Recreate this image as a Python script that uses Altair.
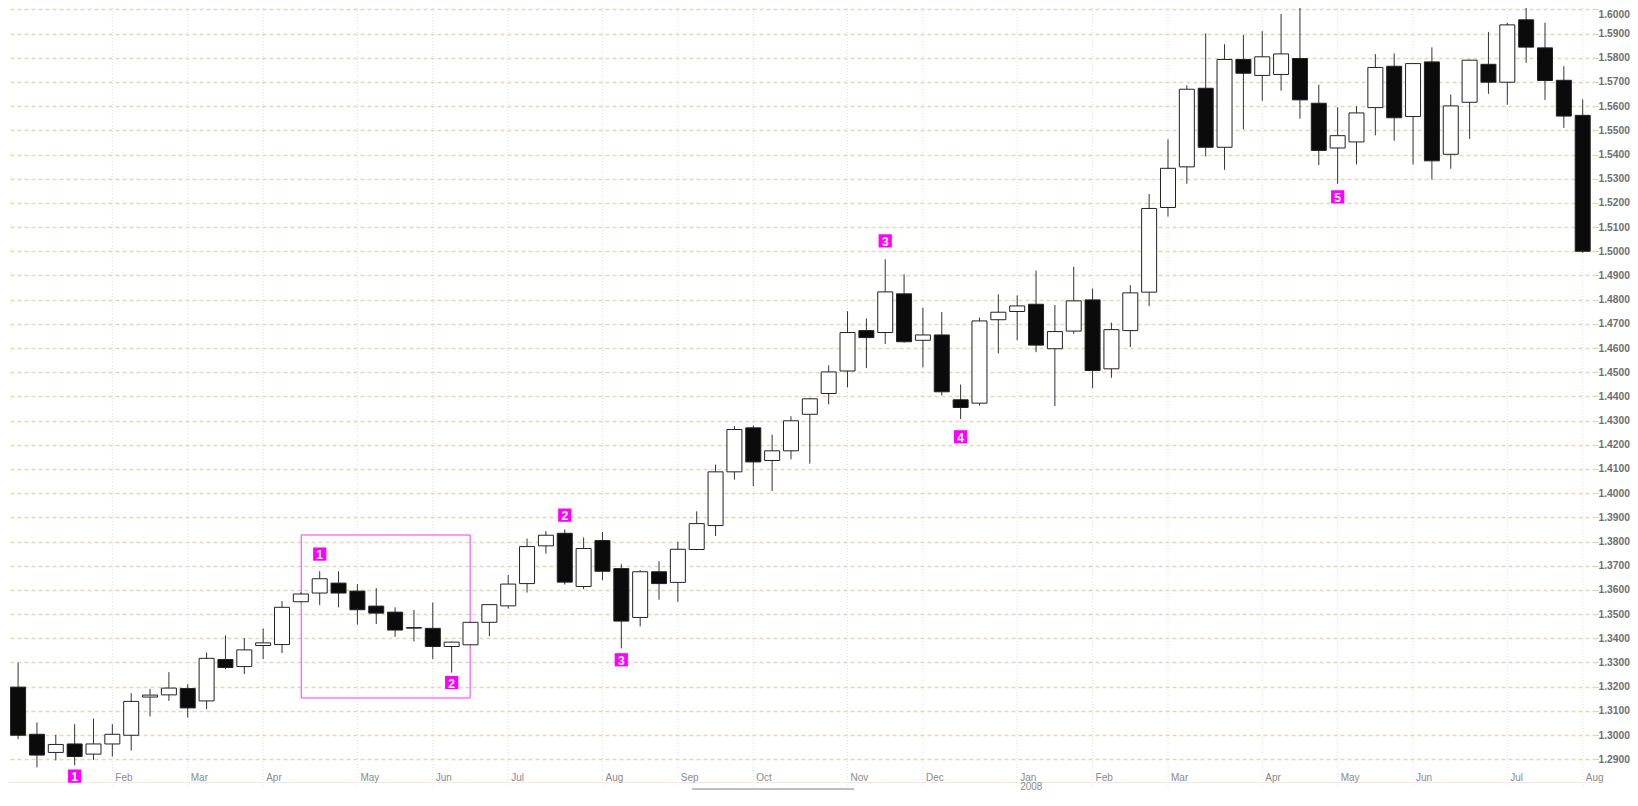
import altair as alt
import pandas as pd

# Weekly candles, week 0 = 1 Jan 2007 ... week 83 = 4 Aug 2008
opens = [1.3198, 1.3003, 1.2928, 1.2963, 1.2921, 1.2963, 1.2999, 1.3157, 1.3166, 1.3192,
         1.3141, 1.3312, 1.3283, 1.3370, 1.3374, 1.3551, 1.3587, 1.3628, 1.3595, 1.3533,
         1.3508, 1.3444, 1.3441, 1.3366, 1.3373, 1.3466, 1.3534, 1.3626, 1.3782, 1.3834,
         1.3614, 1.3804, 1.3688, 1.3486, 1.3675, 1.3631, 1.3767, 1.3866, 1.4088, 1.4270,
         1.4135, 1.4175, 1.4326, 1.4412, 1.4505, 1.4672, 1.4664, 1.4824, 1.4632, 1.4654,
         1.4386, 1.4372, 1.4717, 1.4751, 1.4781, 1.4597, 1.4670, 1.4799, 1.4514, 1.4672,
         1.4831, 1.5181, 1.5349, 1.5674, 1.5430, 1.5793, 1.5727, 1.5731, 1.5797, 1.5612,
         1.5427, 1.5452, 1.5594, 1.5765, 1.5557, 1.5783, 1.5401, 1.5616, 1.5773, 1.5699,
         1.5957, 1.5841, 1.5707, 1.5562]
highs = [1.3300, 1.3052, 1.3001, 1.3045, 1.3067, 1.3045, 1.3173, 1.3191, 1.3260, 1.3210,
         1.3341, 1.3412, 1.3401, 1.3441, 1.3554, 1.3590, 1.3677, 1.3677, 1.3624, 1.3608,
         1.3528, 1.3517, 1.3548, 1.3386, 1.3468, 1.3541, 1.3661, 1.3812, 1.3843, 1.3850,
         1.3817, 1.3839, 1.3706, 1.3682, 1.3719, 1.3799, 1.3925, 1.4118, 1.4277, 1.4279,
         1.4242, 1.4318, 1.4394, 1.4528, 1.4752, 1.4722, 1.4967, 1.4905, 1.4767, 1.4749,
         1.4449, 1.4726, 1.4822, 1.4818, 1.4920, 1.4778, 1.4936, 1.4846, 1.4705, 1.4860,
         1.5237, 1.5463, 1.5686, 1.5901, 1.5856, 1.5894, 1.5910, 1.5981, 1.6018, 1.5689,
         1.5595, 1.5599, 1.5815, 1.5818, 1.5778, 1.5843, 1.5648, 1.5792, 1.5907, 1.5945,
         1.6045, 1.5945, 1.5765, 1.5628]
lows = [1.2983, 1.2866, 1.2895, 1.2875, 1.2897, 1.2911, 1.2936, 1.3077, 1.3141, 1.3072,
        1.3107, 1.3272, 1.3252, 1.3314, 1.3339, 1.3548, 1.3537, 1.3528, 1.3456, 1.3459,
        1.3406, 1.3387, 1.3314, 1.3258, 1.3371, 1.3408, 1.3523, 1.3589, 1.3750, 1.3622,
        1.3603, 1.3640, 1.3358, 1.3449, 1.3560, 1.3551, 1.3764, 1.3823, 1.4056, 1.4029,
        1.4009, 1.4140, 1.4122, 1.4367, 1.4437, 1.4517, 1.4617, 1.4622, 1.4520, 1.4404,
        1.4306, 1.4362, 1.4578, 1.4632, 1.4583, 1.4360, 1.4659, 1.4434, 1.4477, 1.4604,
        1.4773, 1.5143, 1.5279, 1.5392, 1.5337, 1.5504, 1.5622, 1.5664, 1.5548, 1.5356,
        1.5279, 1.5359, 1.5479, 1.5457, 1.5359, 1.5297, 1.5341, 1.5465, 1.5651, 1.5606,
        1.5779, 1.5626, 1.5510, 1.4993]
closes = [1.2999, 1.2917, 1.2961, 1.2911, 1.2963, 1.3003, 1.3139, 1.3165, 1.3194, 1.3112,
          1.3317, 1.3279, 1.3352, 1.3381, 1.3528, 1.3583, 1.3646, 1.3587, 1.3518, 1.3504,
          1.3434, 1.3442, 1.3366, 1.3384, 1.3466, 1.3539, 1.3624, 1.3779, 1.3826, 1.3632,
          1.3771, 1.3677, 1.3471, 1.3675, 1.3626, 1.3768, 1.3874, 1.4088, 1.4263, 1.4129,
          1.4175, 1.4299, 1.4390, 1.4501, 1.4664, 1.4643, 1.4832, 1.4626, 1.4654, 1.4419,
          1.4354, 1.4712, 1.4748, 1.4774, 1.4612, 1.4668, 1.4795, 1.4507, 1.4676, 1.4828,
          1.5177, 1.5343, 1.5670, 1.5430, 1.5793, 1.5736, 1.5804, 1.5816, 1.5626, 1.5417,
          1.5478, 1.5572, 1.5760, 1.5552, 1.5776, 1.5374, 1.5601, 1.5790, 1.5699, 1.5936,
          1.5844, 1.5706, 1.5559, 1.5000]

month_names = ["Feb", "Mar", "Apr", "May", "Jun", "Jul", "Aug", "Sep", "Oct", "Nov", "Dec",
               "Jan", "Feb", "Mar", "Apr", "May", "Jun", "Jul", "Aug"]
month_weeks = [5, 9, 13, 18, 22, 26, 31, 35, 39, 44, 48, 53, 57, 61, 66, 70, 74, 79, 83]
year_label = ["2008"]
year_week = [53]

y_ticks = [1.29, 1.30, 1.31, 1.32, 1.33, 1.34, 1.35, 1.36, 1.37, 1.38, 1.39, 1.40, 1.41,
           1.42, 1.43, 1.44, 1.45, 1.46, 1.47, 1.48, 1.49, 1.50, 1.51, 1.52, 1.53, 1.54,
           1.55, 1.56, 1.57, 1.58, 1.59, 1.60]

marker_text = ["1", "1", "2", "2", "3", "3", "4", "4", "5", "6"]
marker_week = [3, 16, 23, 29, 32, 46, 50, 69, 70, 81]
marker_value = [1.2830, 1.3748, 1.3217, 1.3909, 1.3311, 1.5043, 1.4233, 1.6043, 1.5225, 1.6052]

box_weeks = [15.02, 23.98]
box_values = [1.3827, 1.3153]

df = pd.DataFrame({
    "week": list(range(len(opens))),
    "open": opens, "high": highs, "low": lows, "close": closes,
})
df["dir"] = ["up" if c >= o else "down" for o, c in zip(opens, closes)]

months = pd.DataFrame({"week": month_weeks, "name": month_names})
years = pd.DataFrame({"week": year_week, "name": year_label})
markers = pd.DataFrame({"week": marker_week, "value": marker_value, "text": marker_text})
box = pd.DataFrame({"x": [box_weeks[0]], "x2": [box_weeks[1]],
                    "y": [box_values[0]], "y2": [box_values[1]]})
one = pd.DataFrame({"a": [0]})

W, H = 1588, 778
FONT = "Liberation Sans"
xs = alt.Scale(domain=[-0.27, 83.44], nice=False, zero=False)
ys = alt.Scale(domain=[1.27892, 1.60058], nice=False, zero=False)

y_axis = alt.Axis(
    orient="right", values=y_ticks, format=".4f", title=None,
    labelFont=FONT, labelFontSize=10.3, labelFontWeight="bold", labelColor="#6e6e6e",
    labelPadding=0, labelFlush=2, tickSize=2, tickColor="#cfcab4", domain=False,
    grid=True, gridColor="#dfdabd", gridDash=[4, 3], gridWidth=1.5,
)

def X(field):
    return alt.X(field, scale=xs, axis=None)

def Y(field):
    return alt.Y(field, scale=ys, axis=y_axis)

vgrid = alt.Chart(months).mark_rule(color="#e2e2d2", strokeWidth=1, strokeDash=[1, 2]).encode(
    x=X("week:Q"), y=alt.value(0), y2=alt.value(H),
)

month_text = alt.Chart(months).mark_text(
    align="left", baseline="middle", dx=3, font=FONT, fontSize=10, color="#8a8a8a"
).encode(x=X("week:Q"), y=alt.value(770), text="name:N")

year_text = alt.Chart(years).mark_text(
    align="left", baseline="middle", dx=3, font=FONT, fontSize=10, color="#8a8a8a"
).encode(x=X("week:Q"), y=alt.value(778.5), text="name:N")

wicks = alt.Chart(df).mark_rule(color="#333333", strokeWidth=1, clip=True).encode(
    x=X("week:Q"), y=Y("low:Q"), y2="high:Q",
)

bodies = alt.Chart(df).mark_bar(width=15, stroke="#222222", strokeWidth=1, clip=True).encode(
    x=X("week:Q"), y=Y("open:Q"), y2="close:Q",
    fill=alt.Fill("dir:N", scale=alt.Scale(domain=["up", "down"], range=["#ffffff", "#0b0b0b"]),
                  legend=None),
)

box_mark = alt.Chart(box).mark_rect(fill=None, fillOpacity=0, stroke="#ff33ff", strokeWidth=1).encode(
    x=X("x:Q"), x2="x2:Q", y=Y("y:Q"), y2="y2:Q",
)

marker_sq = alt.Chart(markers).mark_square(size=175, filled=True, color="#ff00ff", opacity=1).encode(
    x=X("week:Q"), y=Y("value:Q"),
)
marker_tx = alt.Chart(markers).mark_text(
    color="white", font=FONT, fontSize=12, fontWeight="bold", baseline="middle", align="center", dy=1
).encode(x=X("week:Q"), y=Y("value:Q"), text="text:N")

bottom_line = alt.Chart(one).mark_rule(color="#f3e8e2", strokeWidth=1).encode(
    x=alt.value(0), x2=alt.value(W), y=alt.value(774.5)
)
scroll_thumb = alt.Chart(one).mark_rule(color="#a8a8a8", strokeWidth=1.5).encode(
    x=alt.value(684), x2=alt.value(846), y=alt.value(781)
)

chart = alt.layer(
    vgrid, bottom_line, month_text, year_text, box_mark, wicks, bodies,
    marker_sq, marker_tx, scroll_thumb
).properties(
    width=W, height=H,
    background="white",
    autosize=alt.AutoSizeParams(type="none"),
    padding={"left": 0, "top": 0, "right": 34, "bottom": 4},
).configure_view(stroke=None)

chart.save("out.html", embed_options={"renderer": "svg", "actions": False})
